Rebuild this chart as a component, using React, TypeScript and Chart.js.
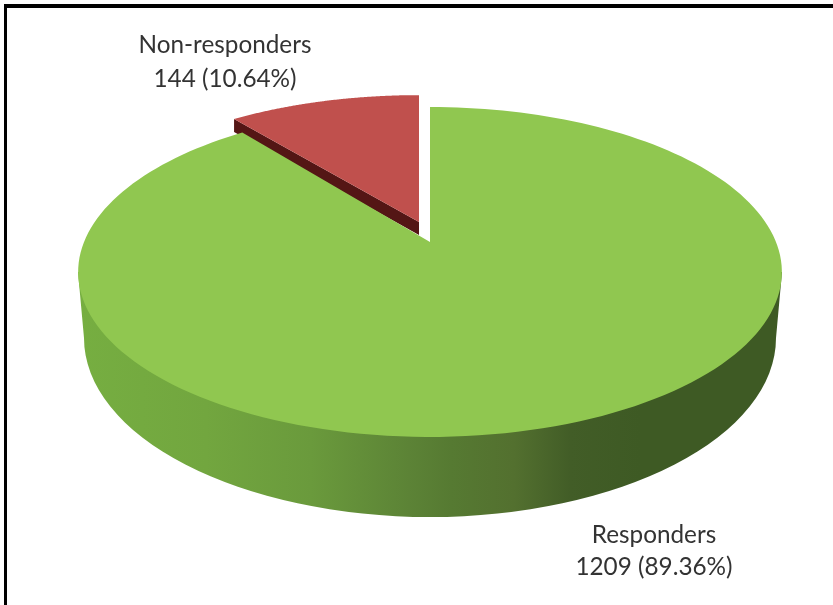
import React, { useEffect, useRef } from "react";
import { Chart, registerables } from "chart.js";

Chart.register(...registerables);

const categories = ["Responders", "Non-responders"];
const patientCounts = [1209, 144];
const percentLabels = ["89.36", "10.64"];
const sliceColors = ["#90c750", "#c0504d"];

// Centre of each two-line caption and the baselines of its lines.
const captionAnchors = [
  { x: 654, y1: 543, y2: 575 },
  { x: 225, y1: 53, y2: 87 },
];

// Perspective disc: the pie's centre sits above the middle of the ellipse.
type Disc = { cx: number; cy: number; a: number; b: number; k: number };
const TOP_DISC: Disc = { cx: 430, cy: 242, a: 346, b: 159.5, k: 0.1818 };
const project = (d: Disc, angle: number) => {
  const u = Math.cos(angle);
  const v = -Math.sin(angle);
  const w = 1 + d.k * v;
  return { x: d.cx + (d.a * u) / w, y: d.cy - (d.b * v) / w };
};

const pulledDisc: Disc = {
  cx: 419,
  cy: 222,
  a: TOP_DISC.a * 0.985,
  b: TOP_DISC.b * 0.94,
  k: TOP_DISC.k,
};
const PULLED_WALL = 13;

const traceSlice = (ctx: CanvasRenderingContext2D, d: Disc, start: number, end: number) => {
  ctx.beginPath();
  ctx.moveTo(d.cx, d.cy);
  const steps = 180;
  for (let i = 0; i <= steps; i++) {
    const p = project(d, start + ((end - start) * i) / steps);
    ctx.lineTo(p.x, p.y);
  }
  ctx.closePath();
};

const drawSideWall = (ctx: CanvasRenderingContext2D) => {
  const cx = 430;
  const cy = 338;
  const rx = 346;
  const ry = 179;
  ctx.beginPath();
  ctx.moveTo(78, 272);
  ctx.lineTo(cx - rx, cy);
  ctx.ellipse(cx, cy, rx, ry, 0, Math.PI, 0, true);
  ctx.lineTo(782, 272);
  ctx.closePath();
  const g = ctx.createLinearGradient(80, 0, 780, 0);
  g.addColorStop(0, "#76ae41");
  g.addColorStop(0.18, "#72a63f");
  g.addColorStop(0.33, "#6a9a3c");
  g.addColorStop(0.47, "#5c8336");
  g.addColorStop(0.53, "#567a32");
  g.addColorStop(0.62, "#53702f");
  g.addColorStop(0.7, "#425d27");
  g.addColorStop(0.8, "#3e5a24");
  g.addColorStop(1, "#3e5a24");
  ctx.fillStyle = g;
  ctx.fill();
};

const tiltedPie = {
  id: "tiltedPie",
  beforeDatasetsDraw(chart: Chart) {
    const ctx = chart.ctx;
    const arcs = chart.getDatasetMeta(0).data as any[];
    const [main, pulled] = arcs;

    ctx.save();
    drawSideWall(ctx);

    // Dark cut face of the pulled-out slice, along its left radial edge.
    const tip = project(pulledDisc, pulled.startAngle);
    ctx.beginPath();
    ctx.moveTo(tip.x, tip.y);
    ctx.lineTo(pulledDisc.cx, pulledDisc.cy);
    ctx.lineTo(pulledDisc.cx, pulledDisc.cy + PULLED_WALL);
    ctx.lineTo(tip.x, tip.y + PULLED_WALL);
    ctx.closePath();
    ctx.fillStyle = "#541615";
    ctx.fill();

    traceSlice(ctx, TOP_DISC, main.startAngle, main.endAngle);
    ctx.fillStyle = main.options.backgroundColor;
    ctx.fill();

    traceSlice(ctx, pulledDisc, pulled.startAngle, pulled.endAngle);
    ctx.fillStyle = pulled.options.backgroundColor;
    ctx.fill();
    ctx.restore();
    return false;
  },
  afterDraw(chart: Chart) {
    const ctx = chart.ctx;
    ctx.save();
    ctx.fillStyle = "#333333";
    ctx.textAlign = "center";
    ctx.textBaseline = "alphabetic";
    ctx.font = '24.3px Lato, "Open Sans", sans-serif';
    categories.forEach((name, i) => {
      const at = captionAnchors[i];
      ctx.fillText(name, at.x, at.y1);
      ctx.fillText(`${patientCounts[i]} (${percentLabels[i]}%)`, at.x, at.y2);
    });
    ctx.restore();
  },
};

export default function App() {
  const ref = useRef<HTMLCanvasElement>(null);
  useEffect(() => {
    if (!ref.current) return;
    const chart = new Chart(ref.current, {
      type: "pie",
      data: {
        labels: categories,
        datasets: [{ data: patientCounts, backgroundColor: sliceColors, borderWidth: 0 }],
      },
      options: {
        responsive: false,
        animation: false,
        plugins: { legend: { display: false }, tooltip: { enabled: false } },
      },
      plugins: [tiltedPie],
    });
    return () => chart.destroy();
  }, []);
  return (
    <div style={{ position: "fixed", inset: 0, background: "#fff", overflow: "hidden" }}>
      <div
        style={{
          position: "absolute",
          left: 4,
          top: 4,
          right: 0,
          bottom: 0,
          borderTop: "4px solid #000",
          borderLeft: "3px solid #000",
        }}
      />
      <canvas
        ref={ref}
        width={833}
        height={605}
        style={{ position: "absolute", left: 0, top: 0, display: "block" }}
      />
    </div>
  );
}
